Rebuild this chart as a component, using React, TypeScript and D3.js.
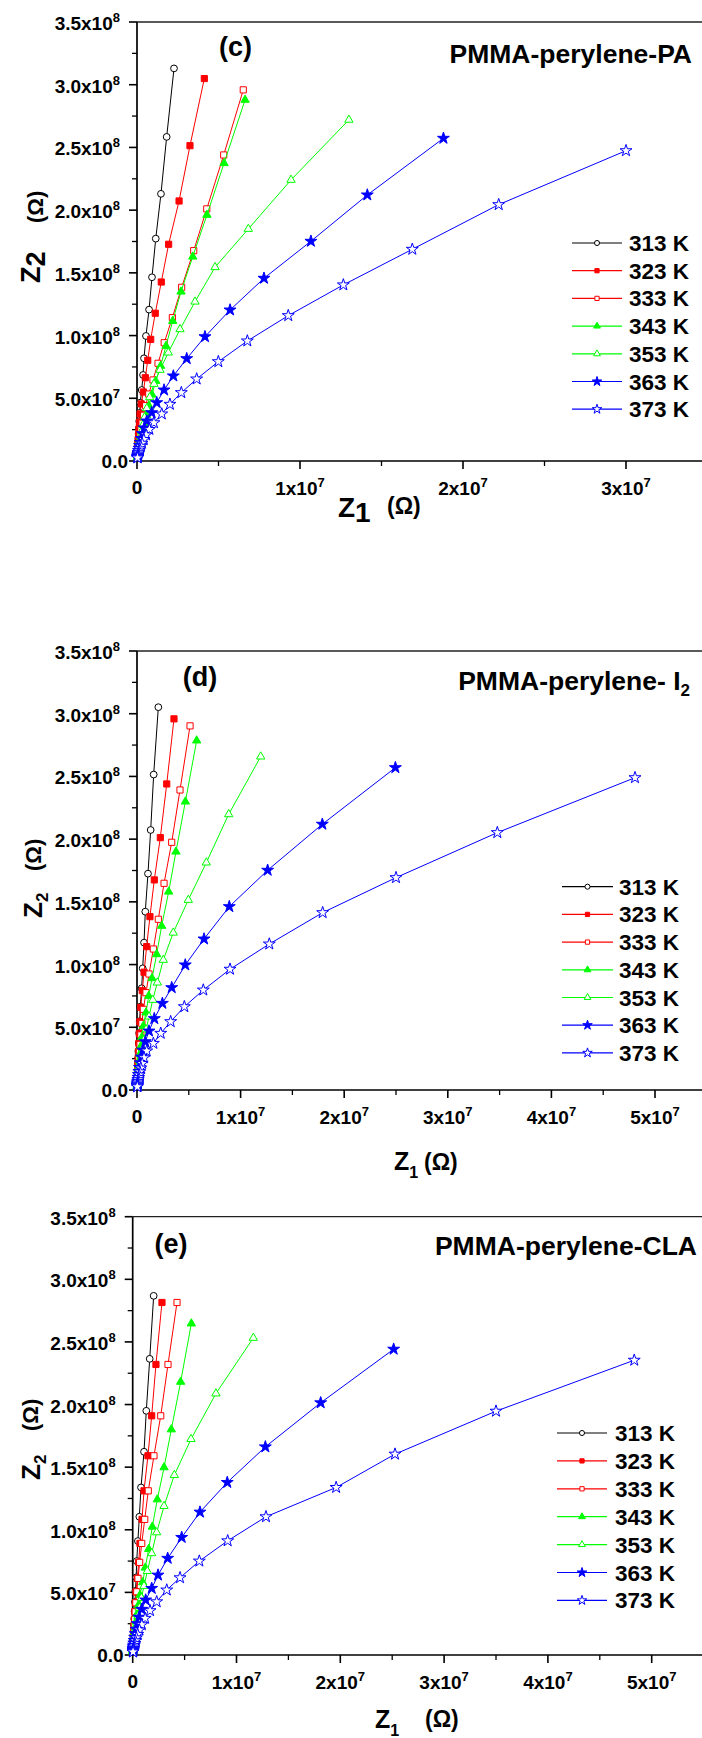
import React from "react";
import * as d3 from "d3";

const X_UNIT = 1e6; // Z1 values stored in units of 1e6 ohm
const Y_UNIT = 1e8; // Z2 values stored in units of 1e8 ohm

const temps = ["313 K", "323 K", "333 K", "343 K", "353 K", "363 K", "373 K"];
const colors = ["#000000", "#ff0000", "#ff0000", "#00ff00", "#00ff00", "#0000ff", "#0000ff"];
const shapes = ["circle", "square", "square", "triangle", "triangle", "star", "star"];
const filled = [false, true, false, true, false, true, false];

const yTicks = [0, 0.5e8, 1e8, 1.5e8, 2e8, 2.5e8, 3e8, 3.5e8];
const xTicksC = [0, 1e7, 2e7, 3e7];
const xTicksDE = [0, 1e7, 2e7, 3e7, 4e7, 5e7];

// ---------- panel (c) PMMA-perylene-PA ----------
const c313 = [[2.27,3.13],[1.82,2.584],[1.47,2.13],[1.15,1.773],[0.92,1.465],[0.74,1.207],[0.55,0.997],[0.43,0.819],[0.37,0.686],[0.29,0.566],[0.2,0.465],[0.17,0.384],[0.14,0.317],[0.12,0.262],[0.1,0.216],[0.085,0.179],[0.072,0.148],[0.06,0.122],[0.05,0.101],[0.042,0.083],[0.035,0.069],[0.03,0.057],[0.025,0.047],[0.02,0.039],[0.017,0.032],[0.014,0.027]];
const c323 = [[4.13,3.049],[3.25,2.514],[2.58,2.073],[1.94,1.728],[1.49,1.427],[1.12,1.178],[0.84,0.97],[0.66,0.803],[0.51,0.664],[0.39,0.55],[0.26,0.455],[0.19,0.375],[0.15,0.31],[0.12,0.256],[0.1,0.211],[0.08,0.175],[0.065,0.144],[0.053,0.119],[0.044,0.099],[0.036,0.082],[0.03,0.067],[0.025,0.056],[0.02,0.046],[0.017,0.038],[0.014,0.031]];
const c333 = [[6.52,2.959],[5.32,2.44],[4.28,2.01],[3.48,1.677],[2.74,1.385],[2.17,1.143],[1.67,0.943],[1.29,0.779],[0.98,0.646],[0.72,0.534],[0.53,0.441],[0.4,0.365],[0.31,0.302],[0.24,0.25],[0.19,0.207],[0.15,0.171],[0.12,0.141],[0.095,0.117],[0.075,0.097],[0.06,0.08],[0.048,0.066],[0.038,0.055],[0.03,0.045],[0.025,0.037],[0.02,0.031]];
const c343 = [[6.63,2.879],[5.34,2.374],[4.29,1.962],[3.42,1.629],[2.7,1.35],[2.19,1.116],[1.78,0.917],[1.45,0.758],[1.15,0.638],[0.92,0.529],[0.74,0.439],[0.58,0.363],[0.45,0.3],[0.35,0.248],[0.28,0.205],[0.22,0.17],[0.17,0.14],[0.135,0.116],[0.105,0.096],[0.085,0.079],[0.068,0.066],[0.055,0.054],[0.045,0.045],[0.036,0.037],[0.03,0.031]];
const c353 = [[13.0,2.72],[9.45,2.241],[6.83,1.85],[4.79,1.545],[3.56,1.27],[2.64,1.05],[1.92,0.864],[1.41,0.726],[1.04,0.614],[0.78,0.508],[0.6,0.42],[0.46,0.347],[0.36,0.287],[0.28,0.237],[0.22,0.196],[0.17,0.162],[0.135,0.134],[0.105,0.111],[0.085,0.092],[0.068,0.076],[0.055,0.063],[0.045,0.052],[0.037,0.043],[0.03,0.035],[0.025,0.029]];
const c363 = [[18.8,2.573],[14.13,2.121],[10.67,1.752],[7.79,1.457],[5.71,1.204],[4.17,0.991],[3.05,0.816],[2.23,0.678],[1.66,0.566],[1.21,0.465],[0.9,0.385],[0.6,0.319],[0.45,0.264],[0.34,0.218],[0.26,0.18],[0.2,0.149],[0.155,0.123],[0.12,0.102],[0.095,0.084],[0.075,0.07],[0.06,0.058],[0.048,0.048],[0.04,0.039],[0.033,0.033],[0.027,0.027]];
const c373 = [[30.0,2.474],[22.19,2.044],[16.89,1.688],[12.66,1.404],[9.28,1.159],[6.77,0.957],[4.99,0.792],[3.66,0.654],[2.72,0.545],[2.02,0.452],[1.52,0.375],[1.04,0.305],[0.76,0.252],[0.56,0.208],[0.42,0.172],[0.31,0.142],[0.23,0.118],[0.175,0.097],[0.13,0.08],[0.1,0.066],[0.078,0.055],[0.06,0.045],[0.048,0.037],[0.038,0.031],[0.03,0.025]];

// ---------- panel (d) PMMA-perylene-I2 ----------
const d313 = [[2.06,3.052],[1.61,2.515],[1.32,2.073],[1.06,1.725],[0.8,1.422],[0.68,1.175],[0.55,0.97],[0.45,0.811],[0.32,0.664],[0.26,0.548],[0.21,0.453],[0.17,0.374],[0.14,0.309],[0.11,0.255],[0.09,0.211],[0.075,0.174],[0.06,0.144],[0.05,0.119],[0.04,0.098],[0.033,0.081],[0.027,0.067],[0.022,0.055],[0.018,0.046],[0.015,0.038],[0.012,0.031]];
const d323 = [[3.57,2.959],[2.87,2.44],[2.25,2.012],[1.67,1.675],[1.25,1.382],[0.93,1.143],[0.68,0.939],[0.51,0.792],[0.36,0.659],[0.28,0.544],[0.22,0.45],[0.18,0.372],[0.14,0.307],[0.115,0.254],[0.093,0.21],[0.076,0.173],[0.062,0.143],[0.05,0.118],[0.041,0.098],[0.034,0.081],[0.028,0.067],[0.023,0.055],[0.019,0.046],[0.015,0.038],[0.012,0.031]];
const d333 = [[5.12,2.903],[4.15,2.392],[3.35,1.975],[2.61,1.648],[2.06,1.361],[1.58,1.124],[1.16,0.925],[0.87,0.776],[0.61,0.643],[0.47,0.531],[0.37,0.439],[0.29,0.363],[0.23,0.3],[0.18,0.248],[0.145,0.205],[0.115,0.169],[0.092,0.14],[0.074,0.116],[0.06,0.096],[0.048,0.079],[0.039,0.065],[0.032,0.054],[0.026,0.045],[0.021,0.037],[0.017,0.03]];
const d343 = [[5.76,2.786],[4.67,2.299],[3.76,1.9],[3.06,1.581],[2.38,1.308],[1.9,1.082],[1.45,0.891],[1.13,0.75],[0.87,0.617],[0.61,0.51],[0.47,0.421],[0.37,0.348],[0.29,0.288],[0.23,0.238],[0.18,0.196],[0.145,0.162],[0.115,0.134],[0.092,0.111],[0.074,0.092],[0.06,0.076],[0.048,0.063],[0.039,0.052],[0.032,0.043],[0.026,0.035],[0.021,0.029]];
const d353 = [[11.94,2.658],[8.85,2.198],[6.69,1.813],[4.95,1.515],[3.5,1.254],[2.54,1.037],[1.96,0.856],[1.52,0.718],[1.16,0.585],[0.88,0.483],[0.68,0.4],[0.52,0.33],[0.4,0.273],[0.31,0.225],[0.24,0.186],[0.19,0.154],[0.15,0.127],[0.12,0.105],[0.095,0.087],[0.075,0.072],[0.06,0.059],[0.048,0.049],[0.039,0.04],[0.032,0.033],[0.026,0.028]];
const d363 = [[24.94,2.57],[17.89,2.119],[12.61,1.752],[8.91,1.462],[6.47,1.204],[4.66,0.997],[3.35,0.816],[2.45,0.691],[1.67,0.569],[1.16,0.47],[0.8,0.385],[0.58,0.318],[0.43,0.263],[0.32,0.217],[0.24,0.18],[0.18,0.148],[0.14,0.123],[0.11,0.101],[0.085,0.084],[0.067,0.069],[0.053,0.057],[0.042,0.047],[0.034,0.039],[0.027,0.032],[0.022,0.027]];
const d373 = [[48.07,2.49],[34.78,2.052],[25.0,1.693],[17.92,1.414],[12.77,1.164],[8.98,0.963],[6.4,0.797],[4.57,0.664],[3.25,0.545],[2.29,0.452],[1.58,0.372],[0.94,0.311],[0.68,0.257],[0.5,0.212],[0.37,0.175],[0.28,0.145],[0.21,0.12],[0.16,0.099],[0.12,0.082],[0.093,0.067],[0.072,0.056],[0.056,0.046],[0.044,0.038],[0.035,0.031],[0.028,0.026]];

// ---------- panel (e) PMMA-perylene-CLA ----------
const e313 = [[2.02,2.868],[1.64,2.365],[1.31,1.95],[1.09,1.623],[0.8,1.338],[0.64,1.104],[0.5,0.91],[0.39,0.75],[0.33,0.62],[0.27,0.512],[0.22,0.423],[0.18,0.35],[0.15,0.289],[0.12,0.239],[0.1,0.197],[0.082,0.163],[0.067,0.135],[0.055,0.111],[0.045,0.092],[0.037,0.076],[0.03,0.063],[0.025,0.052],[0.02,0.043],[0.017,0.035],[0.014,0.029]];
const e323 = [[2.82,2.815],[2.24,2.32],[1.83,1.91],[1.47,1.591],[1.09,1.311],[0.9,1.083],[0.7,0.891],[0.58,0.74],[0.44,0.612],[0.32,0.505],[0.26,0.417],[0.21,0.345],[0.17,0.285],[0.14,0.235],[0.115,0.195],[0.094,0.161],[0.077,0.133],[0.063,0.11],[0.052,0.091],[0.042,0.075],[0.035,0.062],[0.028,0.051],[0.023,0.042],[0.019,0.035],[0.015,0.029]];
const e333 = [[4.27,2.815],[3.4,2.32],[2.7,1.91],[2.05,1.591],[1.5,1.311],[1.16,1.083],[0.87,0.891],[0.67,0.74],[0.51,0.612],[0.39,0.505],[0.3,0.417],[0.24,0.345],[0.19,0.285],[0.15,0.235],[0.12,0.195],[0.097,0.161],[0.078,0.133],[0.063,0.11],[0.051,0.091],[0.041,0.075],[0.033,0.062],[0.027,0.051],[0.022,0.042],[0.018,0.035],[0.015,0.029]];
const e343 = [[5.65,2.647],[4.62,2.181],[3.72,1.801],[3.02,1.498],[2.37,1.242],[1.89,1.024],[1.54,0.846],[1.21,0.697],[0.96,0.58],[0.7,0.479],[0.54,0.396],[0.42,0.327],[0.33,0.27],[0.26,0.223],[0.2,0.185],[0.16,0.153],[0.125,0.126],[0.1,0.104],[0.08,0.086],[0.064,0.071],[0.051,0.059],[0.041,0.049],[0.033,0.04],[0.027,0.033],[0.022,0.027]];
const e353 = [[11.62,2.532],[8.02,2.088],[5.62,1.724],[4.01,1.437],[3.02,1.189],[2.31,0.979],[1.83,0.812],[1.41,0.67],[1.09,0.551],[0.84,0.455],[0.65,0.376],[0.5,0.311],[0.39,0.257],[0.3,0.212],[0.24,0.175],[0.19,0.145],[0.15,0.12],[0.12,0.099],[0.095,0.082],[0.075,0.068],[0.06,0.056],[0.048,0.046],[0.039,0.038],[0.032,0.032],[0.026,0.026]];
const e363 = [[25.14,2.442],[18.11,2.014],[12.78,1.662],[9.11,1.378],[6.48,1.141],[4.72,0.939],[3.37,0.772],[2.44,0.638],[1.83,0.532],[1.25,0.439],[0.87,0.365],[0.62,0.302],[0.45,0.25],[0.33,0.206],[0.25,0.17],[0.19,0.141],[0.145,0.116],[0.11,0.096],[0.085,0.079],[0.067,0.066],[0.053,0.054],[0.042,0.045],[0.034,0.037],[0.027,0.031],[0.022,0.025]];
const e373 = [[48.32,2.354],[35.0,1.947],[25.27,1.604],[19.6,1.338],[12.84,1.104],[9.15,0.912],[6.42,0.75],[4.56,0.617],[3.28,0.519],[2.31,0.425],[1.67,0.354],[1.2,0.293],[0.88,0.242],[0.65,0.2],[0.48,0.165],[0.36,0.137],[0.27,0.113],[0.2,0.093],[0.15,0.077],[0.115,0.064],[0.088,0.053],[0.068,0.044],[0.053,0.036],[0.042,0.03],[0.033,0.025]];

const FONT = "'Liberation Sans', Arial, Helvetica, sans-serif";

const symbolTypes: Record<string, any> = {
  circle: d3.symbolCircle,
  square: d3.symbolSquare,
  triangle: d3.symbolTriangle,
  star: d3.symbolStar,
};
const markerSize: Record<string, number> = { circle: 36, square: 38, triangle: 30, star: 44 };
const legendMarkerSize: Record<string, number> = { circle: 20, square: 18, triangle: 20, star: 28 };

type PanelCfg = {
  series: number[][][];
  xTicks: number[];
  xMax: number;
  left: number;
  right: number;
  top: number;
  bottom: number;
  letter: string;
  letterX: number;
  letterY: number;
  title: string;
  titleSub?: string;
  titleX: number;
  titleY: number;
  legX1: number;
  legX2: number;
  legTextX: number;
  legY0: number;
  legDy: number;
  yLabel: "c" | "de";
  yLabX: number;
  yLabY: number;
  omegaYX: number;
  omegaYY: number;
  xLab: "c" | "de";
  xLabX: number;
  xLabY: number;
  omegaXX: number;
  omegaXY: number;
  xTickBaseline: number;
};

const panels: PanelCfg[] = [
  {
    series: [c313, c323, c333, c343, c353, c363, c373],
    xTicks: xTicksC, xMax: 3.5e7,
    left: 137, right: 707.5, top: 22, bottom: 461,
    letter: "(c)", letterX: 235.5, letterY: 56,
    title: "PMMA-perylene-PA", titleX: 692, titleY: 63,
    legX1: 572, legX2: 622, legTextX: 629, legY0: 243, legDy: 27.7,
    yLabel: "c", yLabX: 40, yLabY: 283, omegaYX: 43, omegaYY: 223,
    xLab: "c", xLabX: 338, xLabY: 517, omegaXX: 387, omegaXY: 514,
    xTickBaseline: 34,
  },
  {
    series: [d313, d323, d333, d343, d353, d363, d373],
    xTicks: xTicksDE, xMax: 5.5e7,
    left: 137, right: 706.8, top: 651, bottom: 1090,
    letter: "(d)", letterX: 200, letterY: 686,
    title: "PMMA-perylene- I", titleSub: "2", titleX: 690, titleY: 690,
    legX1: 562, legX2: 613, legTextX: 619, legY0: 886.7, legDy: 27.7,
    yLabel: "de", yLabX: 42, yLabY: 918, omegaYX: 41, omegaYY: 871,
    xLab: "de", xLabX: 394, xLabY: 1170, omegaXX: 424, omegaXY: 1170,
    xTickBaseline: 34,
  },
  {
    series: [e313, e323, e333, e343, e353, e363, e373],
    xTicks: xTicksDE, xMax: 5.5e7,
    left: 132.7, right: 703.6, top: 1216.7, bottom: 1655,
    letter: "(e)", letterX: 171, letterY: 1253,
    title: "PMMA-perylene-CLA", titleX: 697, titleY: 1255,
    legX1: 557, legX2: 607, legTextX: 615, legY0: 1433, legDy: 27.9,
    yLabel: "de", yLabX: 40, yLabY: 1480, omegaYX: 38, omegaYY: 1431,
    xLab: "de", xLabX: 375, xLabY: 1728, omegaXX: 425, omegaXY: 1727,
    xTickBaseline: 34,
  },
];

function Marker({ shape, isFilled, color, x, y, size }: any) {
  const path = d3.symbol().type(symbolTypes[shape]).size(size)() || "";
  return (
    <path
      d={path}
      transform={`translate(${x},${y})`}
      fill={isFilled ? color : "#ffffff"}
      stroke={color}
      strokeWidth={1}
    />
  );
}

function yTickLabel(v: number) {
  if (v === 0) return { mant: "0.0", exp: "" };
  const exp = v >= 1e8 ? 8 : 7;
  return { mant: (v / Math.pow(10, exp)).toFixed(1) + "x10", exp: String(exp) };
}

function Panel({ cfg }: { cfg: PanelCfg }) {
  const x = d3.scaleLinear().domain([0, cfg.xMax]).range([cfg.left, cfg.right]);
  const y = d3.scaleLinear().domain([0, 3.5e8]).range([cfg.bottom, cfg.top]);
  const line = d3
    .line<number[]>()
    .x((d) => x(d[0] * X_UNIT))
    .y((d) => y(d[1] * Y_UNIT));

  const yMinor = d3.range(0.25e8, 3.5e8, 0.5e8);
  const xMinor = d3.range(0.5e7, cfg.xMax, 1e7);

  return (
    <g fontFamily={FONT} fontWeight="bold" fill="#000">
      {/* frame */}
      <line x1={cfg.left} x2={cfg.right} y1={cfg.top} y2={cfg.top} stroke="#222" strokeWidth={1.3} />
      <line x1={cfg.left} x2={cfg.left} y1={cfg.top} y2={cfg.bottom} stroke="#000" strokeWidth={1.7} />
      <line x1={cfg.left} x2={cfg.right} y1={cfg.bottom} y2={cfg.bottom} stroke="#000" strokeWidth={1.7} />

      {/* y ticks */}
      {yTicks.map((t) => (
        <line key={"yt" + t} x1={cfg.left - 8} x2={cfg.left} y1={y(t)} y2={y(t)} stroke="#000" strokeWidth={1.6} />
      ))}
      {yMinor.map((t) => (
        <line key={"ym" + t} x1={cfg.left - 5} x2={cfg.left} y1={y(t)} y2={y(t)} stroke="#000" strokeWidth={1.3} />
      ))}
      {yTicks.map((t) => {
        const l = yTickLabel(t);
        if (t === 0)
          return (
            <text key={"yl" + t} x={cfg.left - 9} y={y(t) + 6.5} textAnchor="end" fontSize={19}>
              0.0
            </text>
          );
        return (
          <text key={"yl" + t} x={cfg.left - 17} y={y(t) + 8} textAnchor="end" fontSize={19}>
            {l.mant}
            <tspan dy={-8} fontSize={13}>{l.exp}</tspan>
          </text>
        );
      })}

      {/* x ticks */}
      {cfg.xTicks.map((t) => (
        <line key={"xt" + t} x1={x(t)} x2={x(t)} y1={cfg.bottom} y2={cfg.bottom + 8} stroke="#000" strokeWidth={1.6} />
      ))}
      {xMinor.map((t) => (
        <line key={"xm" + t} x1={x(t)} x2={x(t)} y1={cfg.bottom} y2={cfg.bottom + 5} stroke="#000" strokeWidth={1.3} />
      ))}
      {cfg.xTicks.map((t) =>
        t === 0 ? (
          <text key={"xl" + t} x={x(t)} y={cfg.bottom + cfg.xTickBaseline - 1.5} textAnchor="middle" fontSize={19}>
            0
          </text>
        ) : (
          <text key={"xl" + t} x={x(t)} y={cfg.bottom + cfg.xTickBaseline} textAnchor="middle" fontSize={19}>
            {`${Math.round(t / 1e7)}x10`}
            <tspan dy={-8} fontSize={13}>7</tspan>
          </text>
        )
      )}

      {/* series */}
      {cfg.series.map((s, i) => (
        <g key={"s" + i}>
          <path d={line(s) || ""} fill="none" stroke={colors[i]} strokeWidth={1} />
          {s.map((p, j) => (
            <Marker
              key={j}
              shape={shapes[i]}
              isFilled={filled[i]}
              color={colors[i]}
              x={x(p[0] * X_UNIT)}
              y={y(p[1] * Y_UNIT)}
              size={markerSize[shapes[i]]}
            />
          ))}
        </g>
      ))}

      {/* titles */}
      <text x={cfg.letterX} y={cfg.letterY} textAnchor="middle" fontSize={27}>
        {cfg.letter}
      </text>
      <text x={cfg.titleX} y={cfg.titleY} textAnchor="end" fontSize={26.5}>
        {cfg.title}
        {cfg.titleSub ? <tspan dy={6} fontSize={17}>{cfg.titleSub}</tspan> : null}
      </text>

      {/* legend */}
      {temps.map((tname, i) => {
        const ly = cfg.legY0 + i * cfg.legDy;
        return (
          <g key={"lg" + i}>
            <line x1={cfg.legX1} x2={cfg.legX2} y1={ly} y2={ly} stroke={colors[i]} strokeWidth={1.2} />
            <Marker
              shape={shapes[i]}
              isFilled={filled[i]}
              color={colors[i]}
              x={(cfg.legX1 + cfg.legX2) / 2}
              y={ly}
              size={legendMarkerSize[shapes[i]]}
            />
            <text x={cfg.legTextX} y={ly + 8} fontSize={22.5}>
              {tname}
            </text>
          </g>
        );
      })}

      {/* y axis label */}
      {cfg.yLabel === "c" ? (
        <text transform={`translate(${cfg.yLabX},${cfg.yLabY}) rotate(-90)`} fontSize={27}>
          Z<tspan dy={5}>2</tspan>
        </text>
      ) : (
        <text transform={`translate(${cfg.yLabX},${cfg.yLabY}) rotate(-90)`} fontSize={26}>
          Z<tspan dy={6} fontSize={17}>2</tspan>
        </text>
      )}
      <text transform={`translate(${cfg.omegaYX},${cfg.omegaYY}) rotate(-90)`} fontSize={22}>
        (Ω)
      </text>

      {/* x axis label */}
      {cfg.xLab === "c" ? (
        <text x={cfg.xLabX} y={cfg.xLabY} fontSize={28}>
          Z<tspan dy={5}>1</tspan>
        </text>
      ) : (
        <text x={cfg.xLabX} y={cfg.xLabY} fontSize={25}>
          Z<tspan dy={8} fontSize={16}>1</tspan>
        </text>
      )}
      <text x={cfg.omegaXX} y={cfg.omegaXY} fontSize={23}>
        (Ω)
      </text>
    </g>
  );
}

export default function App() {
  return (
    <svg
      width={702}
      height={1738}
      viewBox="0 0 702 1738"
      style={{ position: "absolute", left: 0, top: 0, display: "block", background: "#fff" }}
    >
      <rect x={0} y={0} width={702} height={1738} fill="#fff" />
      {panels.map((p, i) => (
        <Panel key={i} cfg={p} />
      ))}
    </svg>
  );
}
